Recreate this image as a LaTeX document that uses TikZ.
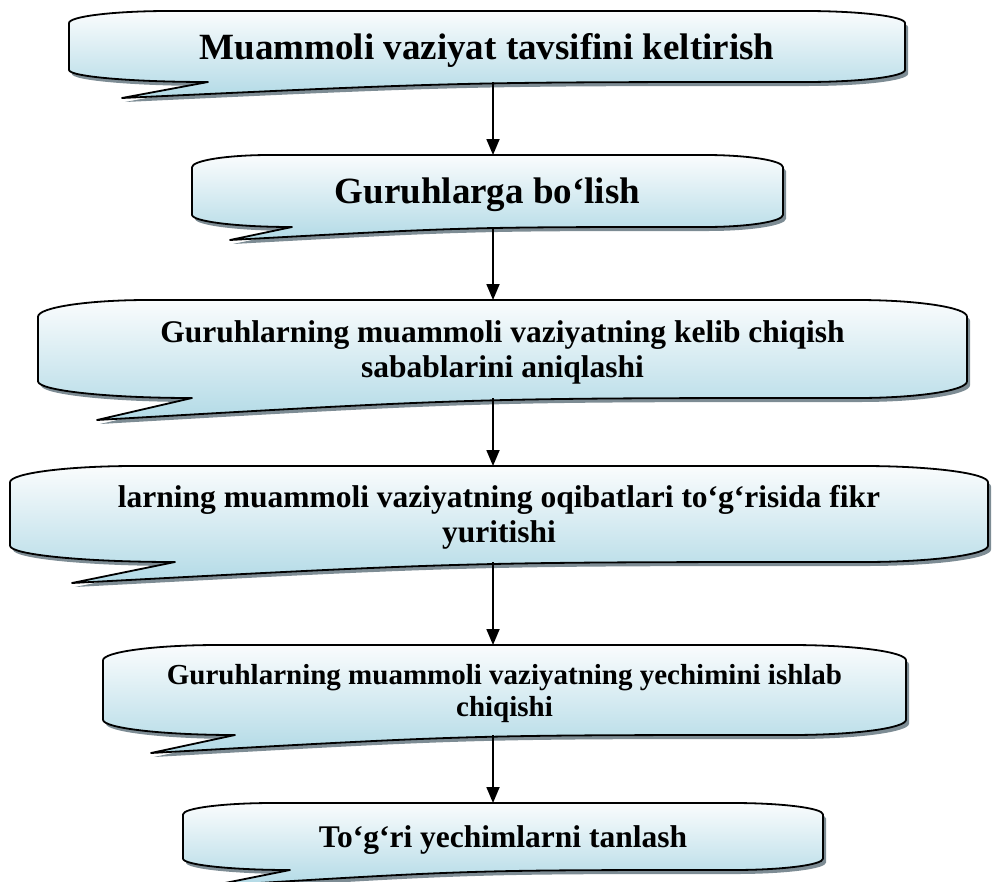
\documentclass[tikz,border=0pt]{standalone}
\usepackage{fontspec}
\setmainfont{Liberation Serif}
\usetikzlibrary{arrows.meta}

\definecolor{bannertop}{RGB}{250,252,253}
\definecolor{bannerbot}{RGB}{178,218,230}
\definecolor{bannershade}{RGB}{125,140,148}

% outline of one banner: L, R, top, bottom, corner width, tail tip x, tail tip y, tail inner x
\newcommand{\bnrpath}[8]{%
  (#1,#3+\bnrdrop) .. controls (#1,#3+0.45*\bnrdrop) and (#1+0.45*#5,#3) .. (#1+#5,#3)
  -- (#2-#5,#3) .. controls (#2-0.45*#5,#3) and (#2,#3+0.45*\bnrdrop) .. (#2,#3+\bnrdrop)
  -- (#2,#4-\bnrdrop) .. controls (#2,#4-0.45*\bnrdrop) and (#2-0.45*#5,#4) .. (#2-#5,#4)
  .. controls ({0.5*(#6+#2-#5)},#4) .. (#6,#7)
  -- (#8,#4) .. controls ({#1+0.45*(#8-#1)},#4) and (#1,#4-0.45*\bnrdrop) .. (#1,#4-\bnrdrop)
  -- cycle}
\newcommand{\banner}[8]{%
  \pgfmathsetmacro{\bnrdrop}{0.17*(#4-#3)}
  \fill[bannershadow, shift={(3,4)}] \bnrpath{#1}{#2}{#3}{#4}{#5}{#6}{#7}{#8};
  \shadedraw[bannerfill] \bnrpath{#1}{#2}{#3}{#4}{#5}{#6}{#7}{#8};}

\begin{document}
\begin{tikzpicture}[x=1pt, y=-1pt,
            stage/.style={inner sep=0pt, outer sep=0pt, align=center, text depth=0pt},
            big/.style={font=\fontsize{37}{41}\selectfont\bfseries},
            mid/.style={font=\fontsize{31.5}{35.5}\selectfont\bfseries},
            small/.style={font=\fontsize{29}{32}\selectfont\bfseries},
            bannerfill/.style={top color=bannertop, bottom color=bannerbot, draw=black, line width=1.8pt, line join=round},
            bannershadow/.style={fill=bannershade},
            flow/.style={-{Triangle[length=16pt,width=13pt]}, line width=1.8pt},
            ]

            \useasboundingbox (0,0) rectangle (992,881);

            \banner{69}{905}{11}{82}{100}{122}{98}{208}
            \banner{192}{783}{155}{227}{78}{230}{240}{292}
            \banner{38}{967}{300}{398}{110}{97}{420}{192}
            \banner{10}{988}{466}{562}{125}{72}{583}{175}
            \banner{103}{906}{645}{735}{115}{151}{753}{235}
            \banner{183}{823}{803}{870}{90}{210}{886}{290}

            \node[stage, big, minimum width=836pt, minimum height=71pt] (s1) at (487,46.5) {Muammoli vaziyat tavsifini keltirish};
            \node[stage, big, minimum width=591pt, minimum height=72pt] (s2) at (487.5,191) {Guruhlarga bo‘lish};
            \node[stage, mid, minimum width=929pt, minimum height=98pt] (s3) at (502.5,349) {Guruhlarning muammoli vaziyatning kelib chiqish\\sabablarini aniqlashi};
            \node[stage, mid, minimum width=978pt, minimum height=96pt] (s4) at (499,514) {larning muammoli vaziyatning oqibatlari to‘g‘risida fikr\\yuritishi};
            \node[stage, small, minimum width=803pt, minimum height=90pt] (s5) at (504.5,690) {Guruhlarning muammoli vaziyatning yechimini ishlab\\chiqishi};
            \node[stage, mid, minimum width=640pt, minimum height=67pt] (s6) at (503,836.5) {To‘g‘ri yechimlarni tanlash};

            \coordinate (spine) at (493,0);
            \draw[flow] (s1.south -| spine) -- (s2.north -| spine);
            \draw[flow] (s2.south -| spine) -- (s3.north -| spine);
            \draw[flow] (s3.south -| spine) -- (s4.north -| spine);
            \draw[flow] (s4.south -| spine) -- (s5.north -| spine);
            \draw[flow] (s5.south -| spine) -- (s6.north -| spine);
        \end{tikzpicture}
\end{document}
